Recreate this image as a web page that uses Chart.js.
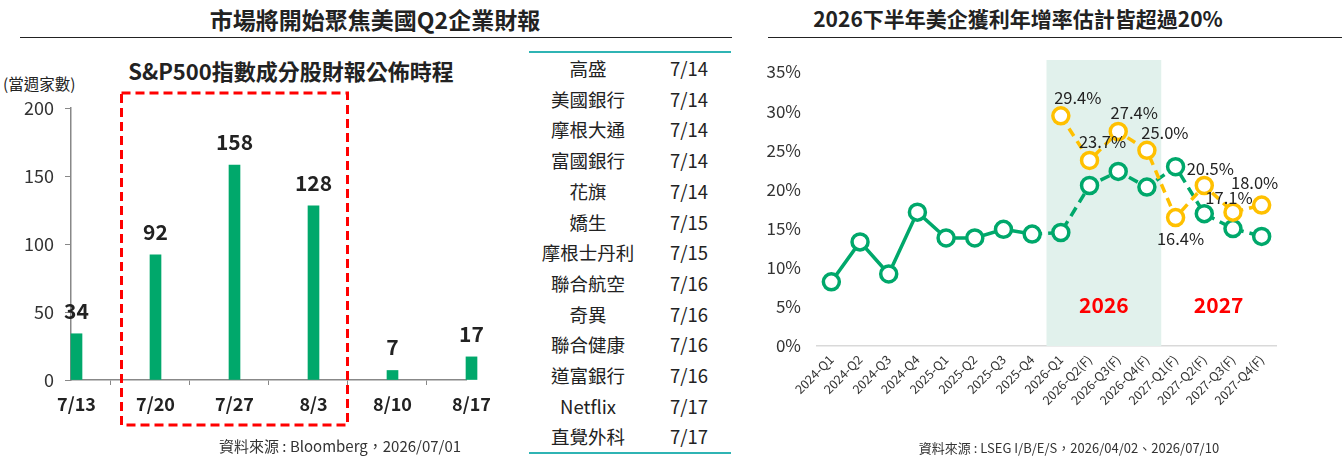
<!DOCTYPE html>
<html>
<head>
<meta charset="utf-8">
<script src="https://cdn.jsdelivr.net/npm/chart.js@4.4.0/dist/chart.umd.min.js"></script>
<style>
  body { margin:0; width:1342px; height:457px; position:relative; overflow:hidden; background:#fff;
         font-family:"Noto Sans CJK TC","Noto Sans",sans-serif; color:#222; }
  .t { position:absolute; white-space:nowrap; text-align:center; }
  .rule { position:absolute; height:0; border-top:1.5px solid #222; }
  .box { position:absolute; }
  #tbl { position:absolute; left:529px; top:51px; width:202px; border-collapse:collapse;
         border-top:2px solid #2fb4b4; border-bottom:2px solid #2fb4b4; font-size:18.5px; color:#222; }
  #tbl td { height:30.7px; padding:0; text-align:center; line-height:30.7px; }
</style>
</head>
<body>
<div class="t" style="left:175px;width:400px;top:2px;font-size:23px;font-weight:bold;">市場將開始聚焦美國Q2企業財報</div>
<div class="rule" style="left:20px;width:712px;top:37px;"></div>
<div class="t" style="left:91px;width:400px;top:54px;font-size:22px;font-weight:bold;">S&amp;P500指數成分股財報公佈時程</div>
<div class="t" style="left:3px;top:72px;font-size:15.5px;">(當週家數)</div>
<div class="box" style="left:0;top:0;width:520px;height:457px;"><canvas id="bars"></canvas></div>
<table id="tbl"></table>
<div class="t" style="left:219px;width:200px;top:435px;font-size:15px;color:#333;">資料來源 : Bloomberg，2026/07/01</div>

<div class="t" style="left:768px;width:500px;top:3px;font-size:21px;font-weight:bold;">2026下半年美企獲利年增率估計皆超過20%</div>
<div class="rule" style="left:768px;width:574px;top:37px;"></div>
<div class="box" style="left:760px;top:0;width:582px;height:457px;"><canvas id="lines"></canvas></div>
<div class="t" style="left:918px;width:302px;top:438px;font-size:13px;color:#333;">資料來源 : LSEG I/B/E/S，2026/04/02、2026/07/10</div>

<script>
// 左圖：S&P500 成分股每週公佈財報家數
const weeks = ['7/13', '7/20', '7/27', '8/3', '8/10', '8/17'];
const reportCounts = [34, 92, 158, 128, 7, 17];
const focusWeeks = ['7/20', '8/3'];

// 中間表格：大型企業財報日期
const companies = ['高盛', '美國銀行', '摩根大通', '富國銀行', '花旗', '嬌生', '摩根士丹利',
                   '聯合航空', '奇異', '聯合健康', '道富銀行', 'Netflix', '直覺外科'];
const reportDates = ['7/14', '7/14', '7/14', '7/14', '7/14', '7/15', '7/15',
                     '7/16', '7/16', '7/16', '7/16', '7/17', '7/17'];

// 右圖：美企獲利年增率 (%)
const quarters = ['2024-Q1', '2024-Q2', '2024-Q3', '2024-Q4', '2025-Q1', '2025-Q2', '2025-Q3', '2025-Q4',
                  '2026-Q1', '2026-Q2(F)', '2026-Q3(F)', '2026-Q4(F)', '2027-Q1(F)', '2027-Q2(F)', '2027-Q3(F)', '2027-Q4(F)'];
const growthJul = [8.2, 13.3, 9.2, 17.1, 13.8, 13.8, 14.9, 14.3, 14.5, 20.5, 22.3, 20.3, 22.9, 16.9, 15.0, 14.0];
const growthApr = [null, null, null, null, null, null, null, null, 29.4, 23.7, 27.4, 25.0, 16.4, 20.5, 17.1, 18.0];
const yearTags = ['2026', '2027'];
const yearSpans = [['2026-Q1', '2026-Q4(F)'], ['2027-Q1(F)', '2027-Q4(F)']];

const GREEN = '#00a86b';
const YELLOW = '#ffc000';
const FONT = '"Noto Sans CJK TC", "Noto Sans", sans-serif';

// 表格
const tbl = document.getElementById('tbl');
companies.forEach((name, i) => {
  const tr = document.createElement('tr');
  tr.innerHTML = `<td style="width:118px">${name}</td><td>${reportDates[i]}</td>`;
  tbl.appendChild(tr);
});

// 長條上方數字
const barLabels = {
  id: 'barLabels',
  afterDatasetsDraw(chart) {
    const ctx = chart.ctx;
    const meta = chart.getDatasetMeta(1);
    ctx.save();
    ctx.font = 'bold 21px ' + FONT;
    ctx.fillStyle = '#222';
    ctx.textAlign = 'center';
    ctx.textBaseline = 'middle';
    meta.data.forEach((bar, i) => ctx.fillText(reportCounts[i], bar.x, bar.y - 23));
    ctx.restore();
  }
};

// 紅色虛線框
const focusBox = {
  id: 'focusBox',
  afterDraw(chart) {
    const ctx = chart.ctx;
    const meta = chart.getDatasetMeta(1);
    const a = meta.data[weeks.indexOf(focusWeeks[0])];
    const b = meta.data[weeks.indexOf(focusWeeks[1])];
    const { top, bottom } = chart.chartArea;
    ctx.save();
    ctx.strokeStyle = '#ff0000';
    ctx.lineWidth = 3;
    ctx.setLineDash([9, 5]);
    ctx.strokeRect(a.x - 34, top - 15, b.x - a.x + 68, bottom - top + 60);
    ctx.restore();
  }
};

new Chart(document.getElementById('bars'), {
  type: 'bar',
  data: {
    labels: weeks,
    datasets: [
      { data: weeks.map(() => null), barThickness: 11 },  // 佔位，讓長條落在刻度右側
      { data: reportCounts, backgroundColor: GREEN, barThickness: 11, clip: false }
    ]
  },
  options: {
    responsive: true,
    maintainAspectRatio: false,
    animation: false,
    layout: { padding: { left: 0, top: 108, right: 54, bottom: 0 } },
    plugins: { legend: { display: false }, tooltip: { enabled: false } },
    scales: {
      x: {
        offset: false,
        grid: { drawOnChartArea: false, color: '#888', tickLength: 5 },
        border: { color: '#888', width: 1.5 },
        ticks: { color: '#222', font: { family: FONT, size: 18, weight: 'bold' }, padding: 8, labelOffset: 5.5, maxRotation: 0 },
        afterFit: s => { s.height = 77; }
      },
      y: {
        min: 0, max: 200,
        grid: { drawOnChartArea: false, color: '#888', tickLength: 6 },
        border: { color: '#888', width: 1.5 },
        ticks: { stepSize: 50, color: '#333', font: { family: FONT, size: 18 }, padding: 11 },
        afterFit: s => { s.width = 71; }
      }
    }
  },
  plugins: [barLabels, focusBox]
});

// 2026 綠底
const shade = {
  id: 'shade',
  beforeDatasetsDraw(chart) {
    const x = chart.scales.x;
    const { top, bottom } = chart.chartArea;
    const step = x.getPixelForValue(1) - x.getPixelForValue(0);
    const l = x.getPixelForValue(quarters.indexOf(yearSpans[0][0])) - step / 2;
    const r = x.getPixelForValue(quarters.indexOf(yearSpans[0][1])) + step / 2;
    const ctx = chart.ctx;
    ctx.save();
    ctx.fillStyle = '#e1f1ec';
    ctx.fillRect(l, top - 12, r - l, bottom - top + 12);
    ctx.restore();
  }
};

// 年度紅字與黃線數值
const textMarks = {
  id: 'textMarks',
  afterDatasetsDraw(chart) {
    const ctx = chart.ctx;
    const x = chart.scales.x;
    const { bottom } = chart.chartArea;
    ctx.save();
    ctx.textAlign = 'center';
    ctx.textBaseline = 'middle';
    ctx.font = 'bold 21px ' + FONT;
    ctx.fillStyle = '#ff0000';
    yearTags.forEach((tag, i) => {
      const cx = (x.getPixelForValue(quarters.indexOf(yearSpans[i][0])) +
                  x.getPixelForValue(quarters.indexOf(yearSpans[i][1]))) / 2;
      ctx.fillText(tag, cx, bottom - 41);
    });
    ctx.font = '16.5px ' + FONT;
    ctx.fillStyle = '#222';
    const meta = chart.getDatasetMeta(0);
    const offs = [[17, -18], [13, -19], [16, -19], [18, -18], [5, 21], [6, -17], [-4, -14], [-7, -22]];
    let k = 0;
    meta.data.forEach((pt, i) => {
      if (growthApr[i] == null) return;
      const [dx, dy] = offs[k++];
      ctx.fillText(growthApr[i].toFixed(1) + '%', pt.x + dx, pt.y + dy);
    });
    ctx.restore();
  }
};

new Chart(document.getElementById('lines'), {
  type: 'line',
  data: {
    labels: quarters,
    datasets: [
      {
        data: growthApr, order: 0,
        borderColor: YELLOW, borderWidth: 3.5, borderDash: [9, 6],
        pointRadius: 8, pointBorderWidth: 3.5, pointBackgroundColor: '#fff', pointBorderColor: YELLOW
      },
      {
        data: growthJul, order: 1,
        borderColor: GREEN, borderWidth: 3.5,
        segment: { borderDash: c => (c.p0DataIndex >= 7 ? [10, 6] : undefined) },
        pointRadius: 8, pointBorderWidth: 3.5, pointBackgroundColor: '#fff', pointBorderColor: GREEN
      }
    ]
  },
  options: {
    responsive: true,
    maintainAspectRatio: false,
    animation: false,
    layout: { padding: { left: 0, top: 72, right: 66, bottom: 0 } },
    plugins: { legend: { display: false }, tooltip: { enabled: false } },
    scales: {
      x: {
        offset: true,
        grid: { display: false, drawTicks: false },
        border: { color: '#d9d9d9', width: 1.5 },
        ticks: { color: '#333', font: { family: FONT, size: 12.5 }, padding: 6, autoSkip: false, minRotation: 45, maxRotation: 45 },
        afterFit: s => { s.height = 111; }
      },
      y: {
        min: 0, max: 35,
        grid: { display: false, drawTicks: false },
        border: { display: false },
        ticks: { stepSize: 5, color: '#333', font: { family: FONT, size: 17 }, padding: 16, callback: v => v + '%' },
        afterFit: s => { s.width = 57; }
      }
    }
  },
  plugins: [shade, textMarks]
});
</script>
</body>
</html>
